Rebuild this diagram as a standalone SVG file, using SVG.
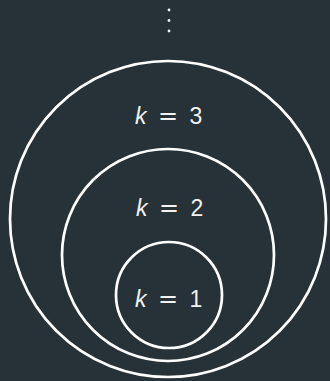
<svg xmlns="http://www.w3.org/2000/svg" width="330" height="381" viewBox="0 0 330 381">
<style>
.c{fill:none;stroke:#ffffff;stroke-width:2.7}
.t{font-family:"Liberation Sans","DejaVu Sans",sans-serif;font-size:23px;fill:#f2f2f2}
.i{font-style:italic}
.e{font-family:"DejaVu Sans","Liberation Sans",sans-serif;font-size:24px}
.d{fill:#f2f2f2}
</style>
<rect width="330" height="381" fill="#263238"/>
<g id="dots">
<circle class="d" cx="169" cy="10" r="1.4"/>
<circle class="d" cx="169" cy="20.5" r="1.4"/>
<circle class="d" cx="169" cy="31" r="1.4"/>
</g>
<g id="k3">
<circle class="c" cx="168" cy="219" r="158"/>
<text class="t" y="124"><tspan class="i" x="135">k</tspan><tspan class="e" x="158">=</tspan><tspan x="189.5">3</tspan></text>
</g>
<g id="k2">
<circle class="c" cx="168" cy="255" r="106"/>
<text class="t" y="216"><tspan class="i" x="136">k</tspan><tspan class="e" x="159">=</tspan><tspan x="190.5">2</tspan></text>
</g>
<g id="k1">
<circle class="c" cx="169" cy="295" r="53"/>
<text class="t" y="307"><tspan class="i" x="135">k</tspan><tspan class="e" x="158">=</tspan><tspan x="189.5">1</tspan></text>
</g>
<g id="connectors"/>
</svg>
